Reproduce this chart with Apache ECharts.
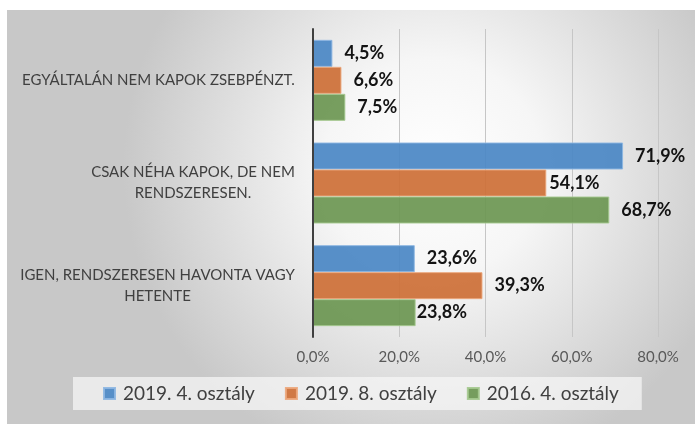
<!DOCTYPE html>
<html>
<head>
<meta charset="utf-8">
<script src="https://cdn.jsdelivr.net/npm/echarts@6/dist/echarts.min.js"></script>
<style>
  html, body { margin: 0; padding: 0; background: #fff; }
  #chart { position: absolute; left: 7px; top: 10px; width: 688px; height: 414px; }
</style>
</head>
<body>
<div id="chart"></div>
<script>
const categories = [
  'IGEN, RENDSZERESEN HAVONTA VAGY\nHETENTE',
  'CSAK NÉHA KAPOK, DE NEM\nRENDSZERESEN.',
  'EGYÁLTALÁN NEM KAPOK ZSEBPÉNZT.'
];
const seriesNames = ['2019. 4. osztály', '2019. 8. osztály', '2016. 4. osztály'];
const grade4_2019 = [23.6, 71.9, 4.5];
const grade8_2019 = [39.3, 54.1, 6.6];
const grade4_2016 = [23.8, 68.7, 7.5];
const axisMax = 80;
const axisStep = 20;

const fmt = (v) => v.toFixed(1).replace('.', ',') + '%';
const font = 'Lato, "Open Sans", sans-serif';
const catFontSize = 15;

const colors = ['#4a87c4', '#cd6f36', '#6b9651'];
const borders = ['#8db6e2', '#eba77c', '#a5c98f'];
// label gap from bar end, per series / category (Excel squeezed two of them)
const labelGaps = [[12, 12, 12], [12, 3, 12], [1, 12, 12]];

// multi-line category labels: lines centred inside a right-aligned block
const measure = document.createElement('canvas').getContext('2d');
measure.font = catFontSize + 'px ' + font;
const catRich = {};
categories.forEach((c, i) => {
  const w = Math.max(...c.split('\n').map((l) => measure.measureText(l).width));
  catRich['l' + i] = {
    width: Math.ceil(w),
    align: 'center',
    fontSize: catFontSize,
    color: '#404040',
    fontFamily: font,
    lineHeight: 21
  };
});

const chart = echarts.init(document.getElementById('chart'));

function makeSeries(name, data, i) {
  return {
    name: name,
    type: 'bar',
    data: data.map((v, j) => ({ value: v, label: { distance: labelGaps[i][j] } })),
    barWidth: 27,
    barGap: '0%',
    barCategoryGap: '20%',
    z: 1,
    itemStyle: {
      color: colors[i],
      borderColor: borders[i],
      borderWidth: 1,
      opacity: 0.92
    },
    label: {
      show: true,
      position: 'right',
      formatter: (p) => fmt(p.value),
      color: '#000',
      fontWeight: 'bold',
      fontSize: 18,
      fontFamily: font
    }
  };
}

const option = {
  backgroundColor: {
    type: 'radial',
    x: 0.62, y: 0.38, r: 0.75,
    colorStops: [
      { offset: 0, color: '#ffffff' },
      { offset: 0.35, color: '#f6f6f6' },
      { offset: 1, color: '#c8c8c8' }
    ]
  },
  animation: false,
  grid: { left: 306, right: 37, top: 19, height: 308 },
  legend: {
    data: seriesNames,
    left: 66,
    top: 367,
    padding: [7, 23, 7, 30],
    backgroundColor: 'rgba(246,246,246,0.75)',
    itemWidth: 11,
    itemHeight: 11,
    itemGap: 30,
    icon: 'rect',
    textStyle: { fontSize: 19, color: '#404040', fontFamily: font, padding: [0, 0, 0, 3] }
  },
  xAxis: {
    type: 'value',
    min: 0,
    max: axisMax,
    interval: axisStep,
    axisLine: { show: false },
    axisTick: { show: false },
    splitLine: { show: true, lineStyle: { color: '#c6c6c6', width: 1 } },
    axisLabel: {
      formatter: fmt,
      color: '#595959',
      fontSize: 15,
      fontFamily: font,
      margin: 13
    }
  },
  yAxis: {
    type: 'category',
    data: categories,
    axisLine: { show: true, lineStyle: { color: '#404040', width: 2 } },
    axisTick: { show: false },
    z: 3,
    axisLabel: {
      margin: 18,
      color: '#404040',
      fontSize: catFontSize,
      fontFamily: font,
      lineHeight: 21,
      formatter: (v, idx) => v.split('\n').map((l) => '{l' + idx + '|' + l + '}').join('\n'),
      rich: catRich
    }
  },
  series: [
    makeSeries(seriesNames[0], grade4_2019, 0),
    makeSeries(seriesNames[1], grade8_2019, 1),
    makeSeries(seriesNames[2], grade4_2016, 2)
  ]
};

chart.setOption(option);
window.addEventListener('resize', chart.resize);
</script>
</body>
</html>
